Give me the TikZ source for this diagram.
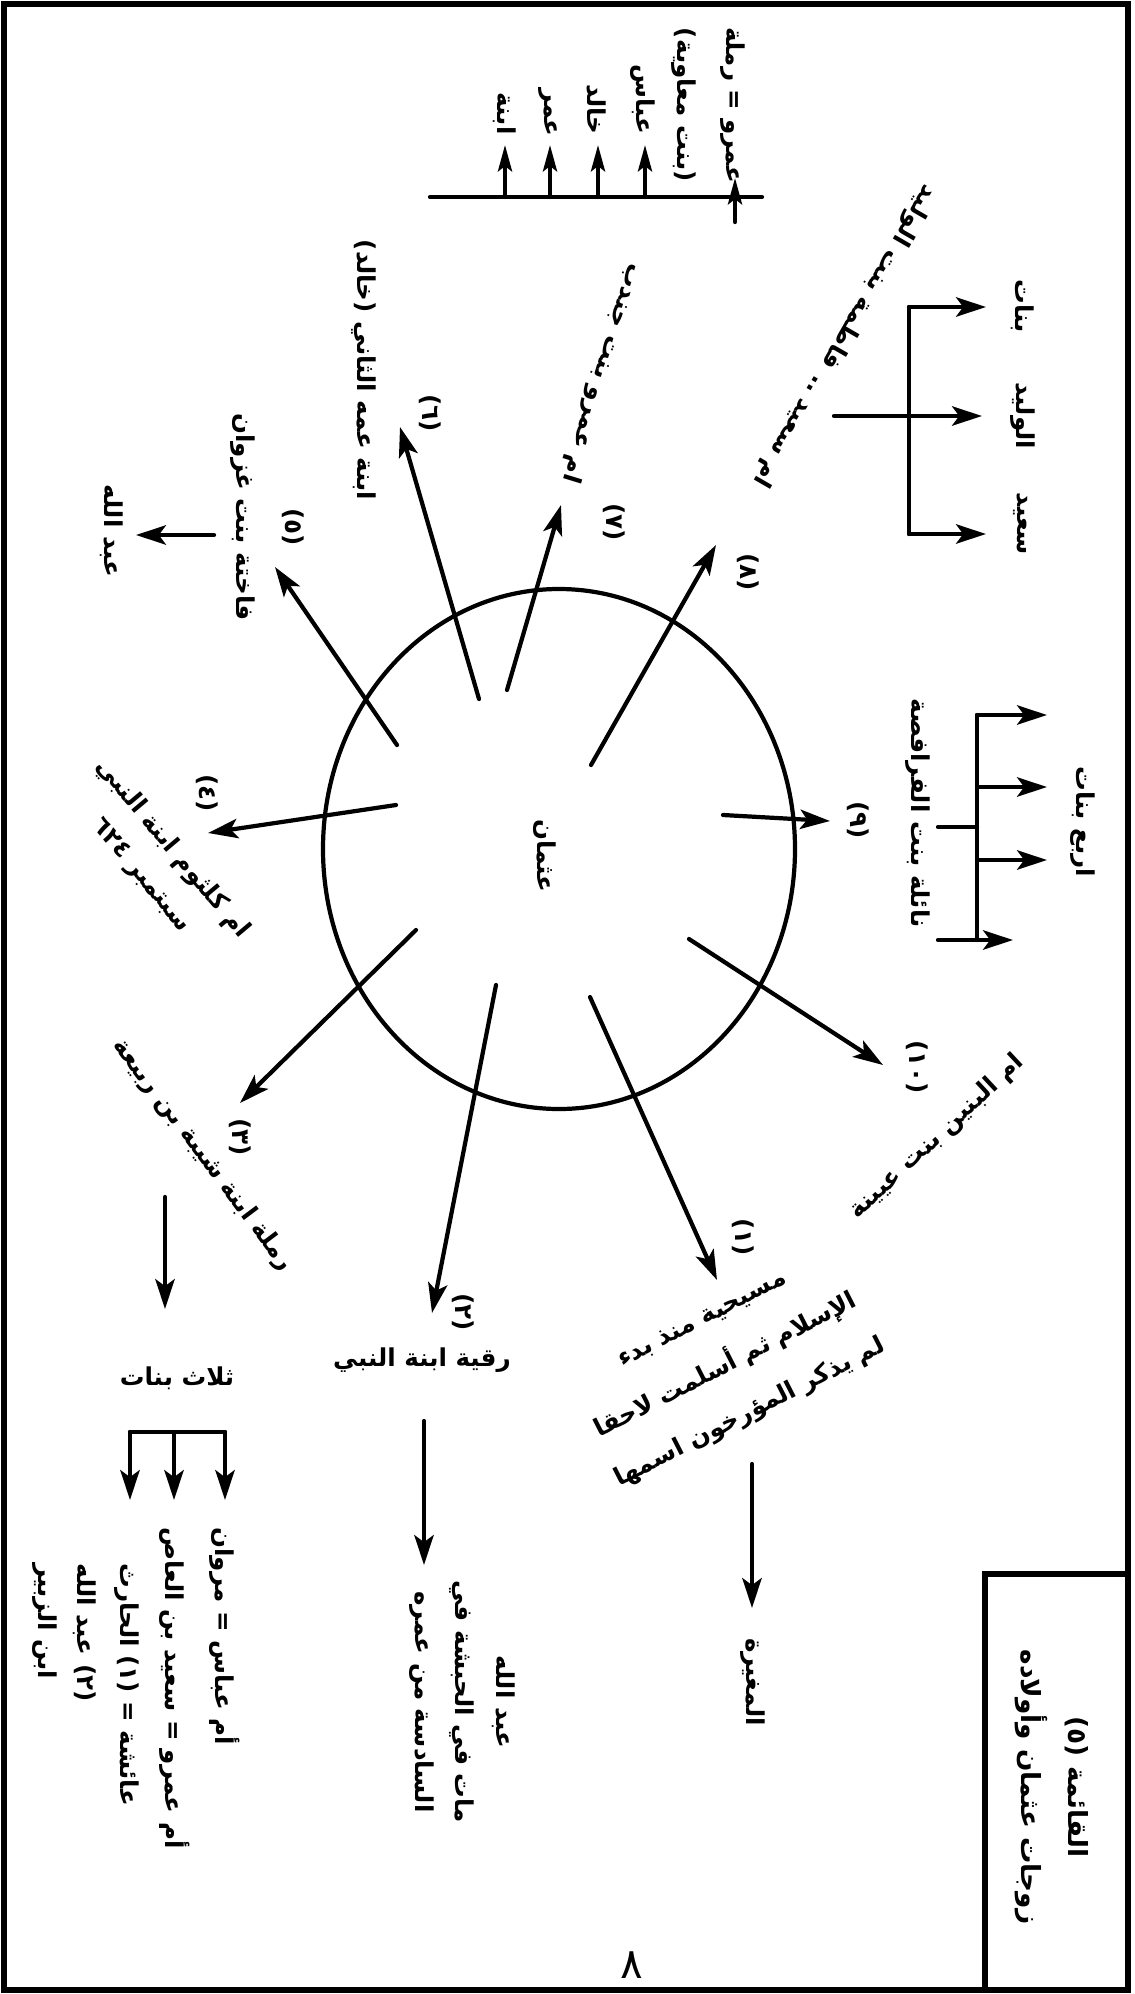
\documentclass[tikz,border=0pt]{standalone}
\usepackage{fontspec}
\usetikzlibrary{arrows.meta}
\newfontfamily\arfont[Script=Arabic]{DejaVu Sans}
\TeXXeTstate=1
\newcommand{\AR}[1]{\beginR #1\endR}
\tikzset{
  txt/.style={font=\arfont\bfseries\fontsize{14}{24}\selectfont, inner sep=0pt, align=center},
  vtxt/.style={txt, rotate=-90},
  wire/.style={line width=2.4pt, line cap=round},
  arw/.style={wire, -{Stealth[length=17pt,width=11pt,inset=4pt]}},
  sarw/.style={wire, -{Stealth[length=15pt,width=8pt,inset=3pt]}},
  frame/.style={line width=3pt},
}
\begin{document}
\begin{tikzpicture}[x=0.02cm,y=-0.02cm]
\useasboundingbox (0,0) rectangle (1135,1994);
% frame and title box
\draw[frame] (4,4) rectangle (1128,1990);
\draw[frame] (985,1574) rectangle (1128,1990);
\node[vtxt, font=\arfont\bfseries\fontsize{15}{27}\selectfont] (title) at (1052,1787) {\AR{القائمة (٥)}\\\AR{زوجات عثمان وأولاده}};
% centre
\draw[wire] (559,849) ellipse [x radius=236, y radius=260];
\node[vtxt] (uthman) at (545,856) {\AR{عثمان}};
% spokes
\coordinate (s1a) at (590,997);  \coordinate (s1b) at (717,1280);
\coordinate (s2a) at (496,985);  \coordinate (s2b) at (432,1313);
\coordinate (s3a) at (416,930);  \coordinate (s3b) at (240,1103);
\coordinate (s4a) at (396,805);  \coordinate (s4b) at (208,833);
\coordinate (s5a) at (397,745);  \coordinate (s5b) at (275,567);
\coordinate (s6a) at (479,699);  \coordinate (s6b) at (400,427);
\coordinate (s7a) at (507,690);  \coordinate (s7b) at (561,505);
\coordinate (s8a) at (591,765);  \coordinate (s8b) at (716,545);
\coordinate (s9a) at (723,815);  \coordinate (s9b) at (830,821);
\coordinate (s10a) at (689,939); \coordinate (s10b) at (883,1065);
\foreach \i in {1,...,10} {\draw[arw] (s\i a) -- (s\i b);}
% number labels
\node[vtxt] (n1) at (743,1237) {\AR{(١)}};
\node[vtxt] (n2) at (463,1312) {\AR{(٢)}};
\node[vtxt] (n3) at (240,1137) {\AR{(٣)}};
\node[vtxt] (n4) at (207,793) {\AR{(٤)}};
\node[vtxt] (n5) at (293,527) {\AR{(٥)}};
\node[vtxt] (n6) at (430,413) {\AR{(٦)}};
\node[vtxt] (n7) at (614,522) {\AR{(٧)}};
\node[vtxt] (n8) at (748,572) {\AR{(٨)}};
\node[vtxt] (n9) at (858,820) {\AR{(٩)}};
\node[vtxt] (n10) at (917,1067) {\AR{(\beginL ١٠\endL{})}};
% wives
\node[txt, rotate=27, font=\arfont\bfseries\fontsize{14}{30}\selectfont] (w1) at (727,1368) {\AR{مسيحية منذ بدء}\\\AR{الإسلام ثم أسلمت لاحقا}\\\AR{لم يذكر المؤرخون اسمها}};
\node[txt] (w2) at (422,1360) {\AR{رقية ابنة النبي}};
\node[txt, rotate=-53] (w3) at (203,1155) {\AR{رملة ابنة شيبة بن ربيعة}};
\node[txt, rotate=-50, font=\arfont\bfseries\fontsize{14}{23}\selectfont] (w4) at (157,862) {\AR{ام كلثوم ابنة النبي}\\\AR{سبتمبر \beginL ٦٢٤\endL{}}};
\node[vtxt] (w5) at (243,517) {\AR{فاختة بنت غزوان}};
\node[vtxt] (w6) at (364,370) {\AR{ابنة عمه الثاني (خالد)}};
\node[txt, rotate=-107] (w7) at (602,373) {\AR{ام عمرو بنت جندب}};
\node[txt, rotate=-120] (w8) at (845,336) {\AR{ام سعيد .. فاطمة بنت الوليد}};
\node[vtxt] (w9) at (918,813) {\AR{نائلة بنت الفرافصة}};
\node[txt, rotate=43] (w10) at (937,1137) {\AR{ام البنين بنت عيينة}};
% (1) child
\coordinate (c1a) at (752,1464); \coordinate (c1b) at (752,1608);
\draw[arw] (c1a) -- (c1b);
\node[vtxt] (k1) at (753,1682) {\AR{المغيرة}};
% (2) child
\coordinate (c2a) at (424,1421); \coordinate (c2b) at (424,1565);
\draw[arw] (c2a) -- (c2b);
\node[vtxt, font=\arfont\bfseries\fontsize{14}{23}\selectfont] (k2) at (462,1702) {\AR{عبد الله}\\\AR{مات في الحبشة في}\\\AR{السادسة من عمره}};
% (3) children
\coordinate (c3a) at (165,1197); \coordinate (c3b) at (165,1309);
\draw[arw] (c3a) -- (c3b);
\node[txt] (k3) at (177,1378) {\AR{ثلاث بنات}};
\coordinate (b3l) at (130,1432); \coordinate (b3m) at (174,1432); \coordinate (b3r) at (225,1432);
\coordinate (b3lt) at (130,1500); \coordinate (b3mt) at (174,1500); \coordinate (b3rt) at (225,1500);
\draw[wire] (b3l) -- (b3r);
\draw[arw] (b3l) -- (b3lt);
\draw[arw] (b3m) -- (b3mt);
\draw[arw] (b3r) -- (b3rt);
\node[vtxt, anchor=west] (d1) at (225,1527) {\AR{أم عباس = مروان}};
\node[vtxt, anchor=west] (d2) at (175,1527) {\AR{أم عمرو = سعيد بن العاص}};
\node[vtxt, anchor=west] (d3) at (127,1563) {\AR{عائشة = (١) الحارث}};
\node[vtxt, anchor=west] (d4) at (85,1563) {\AR{(٢) عبد الله}};
\node[vtxt, anchor=west] (d5) at (45,1563) {\AR{ابن الزبير}};
% (5) child
\coordinate (c5a) at (214,535); \coordinate (c5b) at (136,535);
\draw[arw] (c5a) -- (c5b);
\node[vtxt] (k5) at (112,531) {\AR{عبد الله}};
% (7) children
\coordinate (l7a) at (430,197); \coordinate (l7b) at (762,197);
\draw[wire] (l7a) -- (l7b);
\coordinate (a7s) at (735,222); \coordinate (a7t) at (735,178);
\draw[sarw] (a7s) -- (a7t);
\foreach \x/\n in {505/p,550/q,598/r,645/s} {
  \coordinate (a7\n s) at (\x,197); \coordinate (a7\n t) at (\x,145);
  \draw[sarw] (a7\n s) -- (a7\n t);
}
\node[vtxt, font=\arfont\bfseries\fontsize{14}{28}\selectfont] (m1) at (708,105) {\AR{عمرو = رملة}\\\AR{(بنت معاوية)}};
\node[vtxt, anchor=east] (m2) at (643,135) {\AR{عباس}};
\node[vtxt, anchor=east] (m3) at (597,135) {\AR{خالد}};
\node[vtxt, anchor=east] (m4) at (548,137) {\AR{عمر}};
\node[vtxt, anchor=east] (m5) at (505,135) {\AR{ابنة}};
% (8) children
\coordinate (b8t) at (909,307); \coordinate (b8b) at (909,534);
\coordinate (b8s) at (834,416);
\coordinate (b8tt) at (986,307); \coordinate (b8mt) at (982,416); \coordinate (b8bt) at (986,534);
\draw[wire] (b8t) -- (b8b);
\draw[arw] (b8t) -- (b8tt);
\draw[arw] (b8s) -- (b8mt);
\draw[arw] (b8b) -- (b8bt);
\node[vtxt] (e1) at (1023,306) {\AR{بنات}};
\node[vtxt] (e2) at (1023,416) {\AR{الوليد}};
\node[vtxt] (e3) at (1021,524) {\AR{سعيد}};
% (9) children
\coordinate (b9t) at (977,715); \coordinate (b9b) at (977,940);
\coordinate (b9s) at (938,827); \coordinate (b9m) at (977,827);
\coordinate (b9bs) at (938,940);
\draw[wire] (b9t) -- (b9b);
\draw[wire] (b9s) -- (b9m);
\coordinate (b9u) at (977,787); \coordinate (b9v) at (977,860);
\coordinate (b9tt) at (1047,715); \coordinate (b9ut) at (1047,787); \coordinate (b9vt) at (1047,860); \coordinate (b9bt) at (1013,940);
\draw[arw] (b9t) -- (b9tt);
\draw[arw] (b9u) -- (b9ut);
\draw[arw] (b9v) -- (b9vt);
\draw[arw] (b9bs) -- (b9bt);
\node[vtxt] (f1) at (1083,822) {\AR{اربع بنات}};
% page number
\node[txt, font=\arfont\fontsize{24}{24}\selectfont] (page) at (632,1965) {٨};
\end{tikzpicture}
\end{document}
